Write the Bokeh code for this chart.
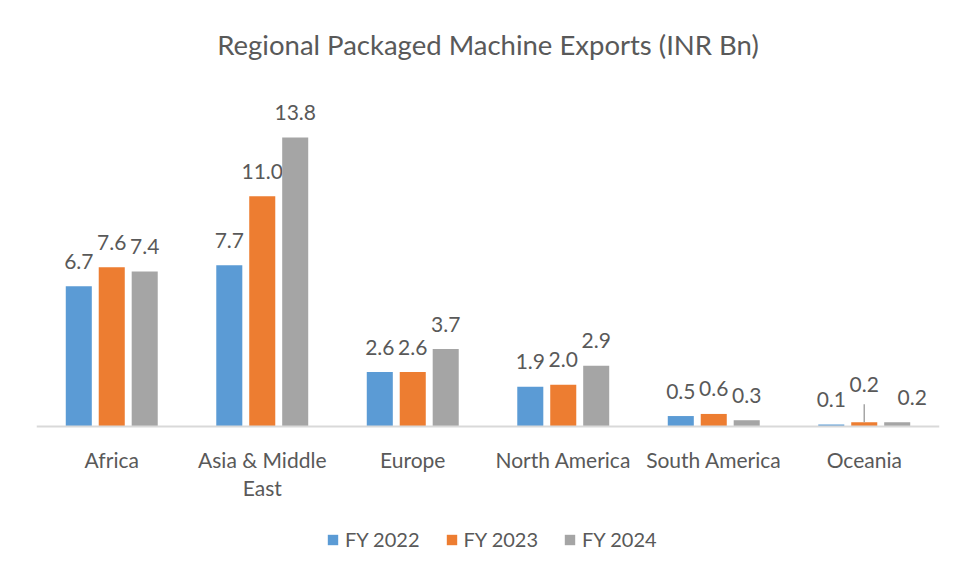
from bokeh.plotting import figure
from bokeh.models import ColumnDataSource, FactorRange, Range1d, Span, Legend, LegendItem
from bokeh.transform import dodge
from bokeh.core.properties import value
from bokeh.embed import file_html
from bokeh.resources import INLINE

# ---- data ----
categories = ["Africa", "Asia & Middle East", "Europe", "North America", "South America", "Oceania"]
cat_line1 = ["Africa", "Asia & Middle", "Europe", "North America", "South America", "Oceania"]
cat_line2 = ["", "East", "", "", "", ""]
series = ["FY 2022", "FY 2023", "FY 2024"]
fy2022 = [6.7, 7.7, 2.6, 1.9, 0.5, 0.1]
fy2023 = [7.6, 11.0, 2.6, 2.0, 0.6, 0.2]
fy2024 = [7.4, 13.8, 3.7, 2.9, 0.3, 0.2]
title_text = "Regional Packaged Machine Exports (INR Bn)"

colors = ["#5B9BD5", "#ED7D31", "#A5A5A5"]
TXT = "#595959"
FONT = "Lato"

Y0, Y1 = -6.733, 20.01
FRAME_H = 560
PX = FRAME_H / (Y1 - Y0)  # pixels per data unit

p = figure(width=947, height=567, output_backend="svg", toolbar_location=None,
           x_range=FactorRange(factors=categories, range_padding=0),
           y_range=Range1d(Y0, Y1),
           min_border_left=36, min_border_right=8, min_border_top=7, min_border_bottom=0)
p.xaxis.visible = False
p.yaxis.visible = False
p.xgrid.visible = False
p.ygrid.visible = False
p.outline_line_color = None
p.background_fill_color = "white"
p.border_fill_color = "white"

offsets = [-0.219, 0.0, 0.219]
values_list = [fy2022, fy2023, fy2024]
renderers = []
for i, (name, vals) in enumerate(zip(series, values_list)):
    lbl_xoff = [0] * len(categories)
    lbl_yoff = [-25] * len(categories)
    if i == 1:
        lbl_yoff[5] = -38   # Oceania FY 2023 label lifted (with leader line)
    if i == 2:
        lbl_xoff[5] = 15    # Oceania FY 2024 label moved right
    src = ColumnDataSource(dict(cat=categories, val=vals,
                                lab=[f"{v:.1f}" for v in vals],
                                xo=lbl_xoff, yo=lbl_yoff))
    r = p.vbar(x=dodge("cat", offsets[i], range=p.x_range), top="val", width=0.173,
               source=src, fill_color=colors[i], line_color=None)
    renderers.append(r)
    p.text(x=dodge("cat", offsets[i], range=p.x_range), y="val", text="lab", source=src,
           x_offset="xo", y_offset="yo",
           text_align="center", text_baseline="middle", text_color=TXT,
           text_font=value(FONT), text_font_size="21px")

# leader line for Oceania FY 2023 label
lead_src = ColumnDataSource(dict(cat=[categories[5]],
                                 y0=[fy2023[5]], y1=[fy2023[5] + 18 / PX]))
p.segment(x0=dodge("cat", offsets[1], range=p.x_range), y0="y0",
          x1=dodge("cat", offsets[1], range=p.x_range), y1="y1",
          source=lead_src, line_color="#A6A6A6", line_width=1.5)

# baseline
p.add_layout(Span(location=0, dimension="width", line_color="#D9D9D9", line_width=2))

# category labels
csrc = ColumnDataSource(dict(cat=categories, l1=cat_line1, l2=cat_line2, y=[0] * len(categories)))
p.text(x="cat", y="y", text="l1", source=csrc, y_offset=33, text_align="center",
       text_baseline="middle", text_color=TXT, text_font=value(FONT), text_font_size="21px")
p.text(x="cat", y="y", text="l2", source=csrc, y_offset=61, text_align="center",
       text_baseline="middle", text_color=TXT, text_font=value(FONT), text_font_size="21px")

# title
p.text(x=[3.0], y=[18.24], text=[title_text], text_align="center", text_baseline="middle",
       text_color=TXT, text_font=value(FONT), text_font_size="27.5px")

legend = Legend(items=[LegendItem(label=s, renderers=[r]) for s, r in zip(series, renderers)],
                orientation="horizontal", location=(290, 16),
                glyph_width=13, glyph_height=13, label_standoff=6, spacing=25,
                padding=0, margin=0, border_line_color=None, background_fill_alpha=0,
                label_text_font=FONT, label_text_font_size="20px", label_text_color=TXT,
                label_height=20)
p.add_layout(legend)

open("out.html", "w").write(file_html(p, INLINE))
